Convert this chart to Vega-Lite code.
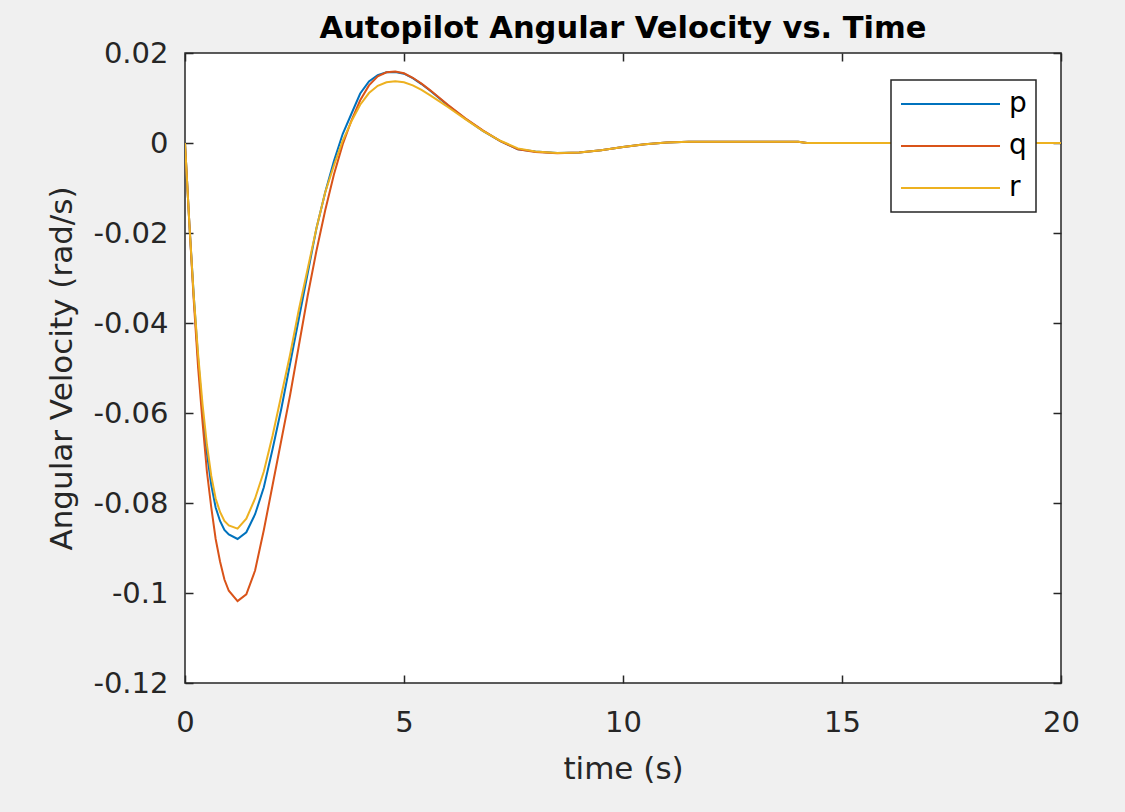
{
  "$schema": "https://vega.github.io/schema/vega-lite/v6.json",
  "width": 876,
  "height": 630,
  "autosize": {"type": "none"},
  "padding": {"left": 185, "top": 53, "right": 64, "bottom": 129},
  "background": "#f0f0f0",
  "config": {
    "view": {"fill": "white", "stroke": "#262626", "strokeWidth": 1.5},
    "font": "DejaVu Sans"
  },
  "title": {
    "text": "Autopilot Angular Velocity vs. Time",
    "fontSize": 30.5,
    "fontWeight": "bold",
    "color": "#000000",
    "font": "DejaVu Sans",
    "offset": -5
  },
  "data": {
    "values": [
      {"t": 0, "p": 0, "q": 0, "r": 0},
      {"t": 0.1, "p": -0.018, "q": -0.018, "r": -0.018},
      {"t": 0.2, "p": -0.034, "q": -0.035, "r": -0.034},
      {"t": 0.3, "p": -0.048, "q": -0.05, "r": -0.047},
      {"t": 0.4, "p": -0.06, "q": -0.062, "r": -0.058},
      {"t": 0.5, "p": -0.069, "q": -0.073, "r": -0.067},
      {"t": 0.6, "p": -0.076, "q": -0.081, "r": -0.074},
      {"t": 0.7, "p": -0.081, "q": -0.088, "r": -0.079},
      {"t": 0.8, "p": -0.084, "q": -0.093, "r": -0.082},
      {"t": 0.9, "p": -0.086, "q": -0.097, "r": -0.084},
      {"t": 1.0, "p": -0.087, "q": -0.0995, "r": -0.085},
      {"t": 1.2, "p": -0.088, "q": -0.1018, "r": -0.0857},
      {"t": 1.4, "p": -0.0865, "q": -0.1003, "r": -0.0835},
      {"t": 1.6, "p": -0.0825, "q": -0.095, "r": -0.079},
      {"t": 1.8, "p": -0.0765, "q": -0.086, "r": -0.073},
      {"t": 2.0, "p": -0.068, "q": -0.076, "r": -0.065},
      {"t": 2.2, "p": -0.059, "q": -0.066, "r": -0.056},
      {"t": 2.4, "p": -0.049, "q": -0.056, "r": -0.047},
      {"t": 2.6, "p": -0.039, "q": -0.045, "r": -0.037},
      {"t": 2.8, "p": -0.029, "q": -0.034, "r": -0.028},
      {"t": 3.0, "p": -0.019, "q": -0.024, "r": -0.019},
      {"t": 3.2, "p": -0.011, "q": -0.015, "r": -0.011},
      {"t": 3.4, "p": -0.004, "q": -0.007, "r": -0.005},
      {"t": 3.6, "p": 0.002, "q": -0.0003, "r": 0.0005},
      {"t": 3.8, "p": 0.0065, "q": 0.005, "r": 0.0048},
      {"t": 4.0, "p": 0.011, "q": 0.0095, "r": 0.0085},
      {"t": 4.2, "p": 0.0137, "q": 0.0128, "r": 0.0111},
      {"t": 4.4, "p": 0.0151, "q": 0.0148, "r": 0.0127},
      {"t": 4.6, "p": 0.0157, "q": 0.0157, "r": 0.0135},
      {"t": 4.8, "p": 0.0158, "q": 0.0159, "r": 0.0137},
      {"t": 5.0, "p": 0.0154, "q": 0.0155, "r": 0.0135},
      {"t": 5.2, "p": 0.0144, "q": 0.0145, "r": 0.0128},
      {"t": 5.4, "p": 0.0131, "q": 0.0132, "r": 0.0118},
      {"t": 5.6, "p": 0.0116, "q": 0.0117, "r": 0.0106},
      {"t": 5.8, "p": 0.01, "q": 0.0101, "r": 0.0093},
      {"t": 6.0, "p": 0.0084, "q": 0.0085, "r": 0.008},
      {"t": 6.4, "p": 0.0054, "q": 0.0055, "r": 0.0053},
      {"t": 6.8, "p": 0.0027, "q": 0.0028, "r": 0.0027},
      {"t": 7.2, "p": 0.0004, "q": 0.0004, "r": 0.0005},
      {"t": 7.6, "p": -0.0014, "q": -0.0014, "r": -0.0012},
      {"t": 8.0, "p": -0.0019, "q": -0.002, "r": -0.0019},
      {"t": 8.5, "p": -0.0022, "q": -0.0023, "r": -0.0022},
      {"t": 9.0, "p": -0.0021, "q": -0.0021, "r": -0.0021},
      {"t": 9.5, "p": -0.0016, "q": -0.0016, "r": -0.0016},
      {"t": 10.0, "p": -0.0009, "q": -0.0009, "r": -0.0009},
      {"t": 10.5, "p": -0.0003, "q": -0.0003, "r": -0.0003},
      {"t": 11.0, "p": 0.0001, "q": 0.0001, "r": 0.0001},
      {"t": 11.5, "p": 0.0003, "q": 0.0003, "r": 0.0003},
      {"t": 12.0, "p": 0.0003, "q": 0.0003, "r": 0.0003},
      {"t": 13.0, "p": 0.0003, "q": 0.0003, "r": 0.0003},
      {"t": 14.0, "p": 0.0003, "q": 0.0003, "r": 0.0003},
      {"t": 14.2, "p": 0, "q": 0, "r": 0},
      {"t": 15.0, "p": 0, "q": 0, "r": 0},
      {"t": 16.0, "p": 0, "q": 0, "r": 0},
      {"t": 17.0, "p": 0, "q": 0, "r": 0},
      {"t": 18.0, "p": 0, "q": 0, "r": 0},
      {"t": 19.0, "p": 0, "q": 0, "r": 0},
      {"t": 20.0, "p": 0, "q": 0, "r": 0}
    ]
  },
  "transform": [{"fold": ["p", "q", "r"], "as": ["series", "value"]}],
  "layer": [
    {
      "mark": {"type": "line", "strokeWidth": 2, "clip": true},
      "encoding": {
        "x": {
          "field": "t",
          "type": "quantitative",
          "scale": {"domain": [0, 20], "nice": false},
          "axis": {
            "orient": "bottom",
            "values": [0, 5, 10, 15, 20],
            "grid": false,
            "domain": false,
            "tickSize": -8,
            "tickColor": "#262626",
            "tickWidth": 1.5,
            "labelFontSize": 29,
            "labelColor": "#262626",
            "labelPadding": 33,
            "labelFlush": false,
            "labelOverlap": false,
            "labelBound": false,
            "title": "time (s)",
            "titleFontSize": 31,
            "titleFontWeight": "normal",
            "titleColor": "#262626",
            "titlePadding": 17
          }
        },
        "y": {
          "field": "value",
          "type": "quantitative",
          "scale": {"domain": [-0.12, 0.02], "nice": false, "zero": false},
          "axis": {
            "orient": "left",
            "values": [-0.12, -0.1, -0.08, -0.06, -0.04, -0.02, 0, 0.02],
            "labelExpr": "replace(format(datum.value, '.2~f'), '\u2212', '-')",
            "grid": false,
            "domain": false,
            "tickSize": -8,
            "tickColor": "#262626",
            "tickWidth": 1.5,
            "labelFontSize": 29,
            "labelColor": "#262626",
            "labelPadding": 25,
            "labelFlush": false,
            "labelOverlap": false,
            "labelBound": false,
            "title": "Angular Velocity (rad/s)",
            "titleFontSize": 31,
            "titleFontWeight": "normal",
            "titleColor": "#262626",
            "titlePadding": 14
          }
        },
        "color": {
          "field": "series",
          "type": "nominal",
          "scale": {"domain": ["p", "q", "r"], "range": ["#0072BD", "#D95319", "#EDB120"]},
          "legend": {
            "title": null,
            "orient": "none",
            "legendX": 706,
            "legendY": 27,
            "strokeColor": "#262626",
            "fillColor": "white",
            "padding": 9,
            "symbolType": "stroke",
            "symbolSize": 9801,
            "symbolStrokeWidth": 2,
            "clipHeight": 30,
            "labelFontSize": 28,
            "labelColor": "#000000",
            "labelOffset": 8,
            "rowPadding": 12,
            "encode": {"legend": {"update": {"strokeWidth": {"value": 1.5}}}}
          }
        }
      }
    },
    {
      "mark": {"type": "line", "opacity": 0},
      "encoding": {
        "x": {
          "field": "t",
          "type": "quantitative",
          "scale": {"domain": [0, 20], "nice": false},
          "axis": {
            "orient": "top",
            "values": [0, 5, 10, 15, 20],
            "grid": false,
            "domain": false,
            "labels": false,
            "title": null,
            "tickSize": -8,
            "tickColor": "#262626",
            "tickWidth": 1.5
          }
        },
        "y": {
          "field": "value",
          "type": "quantitative",
          "scale": {"domain": [-0.12, 0.02], "nice": false, "zero": false},
          "axis": {
            "orient": "right",
            "values": [-0.12, -0.1, -0.08, -0.06, -0.04, -0.02, 0, 0.02],
            "grid": false,
            "domain": false,
            "labels": false,
            "title": null,
            "tickSize": -8,
            "tickColor": "#262626",
            "tickWidth": 1.5
          }
        }
      }
    }
  ],
  "resolve": {"axis": {"x": "independent", "y": "independent"}}
}
